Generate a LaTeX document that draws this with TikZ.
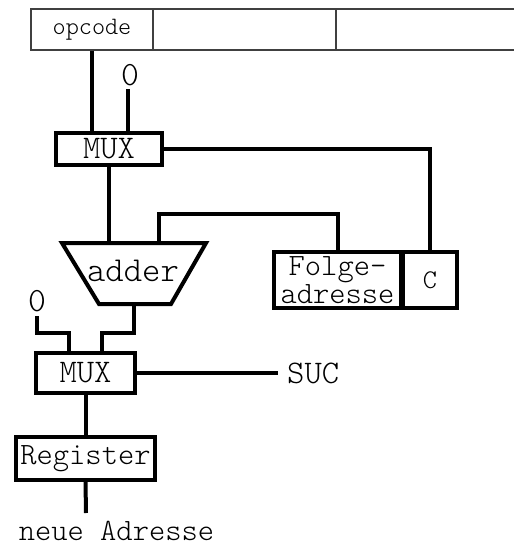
\documentclass[tikz,border=0pt]{standalone}
\usepackage{fontspec}
\newfontfamily\lmlight{lmmonolt10-regular.otf}
\usetikzlibrary{calc}
\newcommand\fsz[1]{\lmlight\fontsize{#1}{#1}\selectfont}
\newcommand\fszl[2]{\lmlight\fontsize{#1}{#2}\selectfont}
\begin{document}
\begin{tikzpicture}[x=1pt,y=-1pt,
  cell/.style={draw=black!75,line width=1.2pt,rectangle,inner sep=0pt,font={\fsz{25}}},
  box/.style={draw,line width=4pt,rectangle,inner sep=0pt,font={\fsz{32}}},
  wire/.style={line width=4pt},
  lbl/.style={inner sep=0pt,font={\fsz{32}}}]
\useasboundingbox (0,0) rectangle (514,547);
% top register
\node[cell,minimum width=122pt,minimum height=41pt] (op) at (92,29.5) {opcode};
\node[cell,minimum width=183pt,minimum height=41pt] (f2) at (244.5,29.5) {};
\node[cell,minimum width=180pt,minimum height=41pt] (f3) at (426,29.5) {};
% MUX 1
\node[box,minimum width=106pt,minimum height=32pt,font={\fsz{33}}] (mux1) at (109,149) {MUX};
\node[lbl,font={\fsz{34}}] (zero1) at (130,75.5) {0};
\coordinate (z1) at (128,89);
% adder
\coordinate (a1) at (62,243);
\coordinate (a2) at (206,243);
\coordinate (a3) at (171,304);
\coordinate (a4) at (99,304);
\draw[wire,line join=miter] (a1) -- (a2) -- (a3) -- (a4) -- cycle;
\node[lbl,font={\fsz{35}}] (adder) at (133,271) {adder};
\coordinate (ain) at (159,243);
\coordinate (aout) at (134,304);
% Folgeadresse and C
\node[box,minimum width=127pt,minimum height=56pt,align=center,font={\fszl{31}{26}}] (folge) at (337.5,280) {Folge-\\adresse};
\node[box,minimum width=54pt,minimum height=56pt,font={\fsz{27}}] (c) at (430,280) {C};
% MUX 2
\node[box,minimum width=99pt,minimum height=40pt,font={\fsz{33}}] (mux2) at (85.5,373) {MUX};
\node[lbl,font={\fsz{34}}] (zero2) at (37,301) {0};
\coordinate (z2) at (37,316);
\node[lbl,anchor=west,inner xsep=9pt,font={\fsz{33}}] (suc) at (278,373) {SUC};
% Register
\node[box,minimum width=139pt,minimum height=43pt,font={\fsz{31}}] (reg) at (85.5,458.5) {Register};
\coordinate (out) at (86,513);
\node[lbl,font={\fsz{31}}] (neu) at (116.5,531) {neue Adresse};
% wires
\draw[wire] (op.south) -- (op.south |- mux1.north);
\draw[wire] (z1) -- (z1 |- mux1.north);
\draw[wire] (mux1.east) -| (c.north);
\draw[wire] (mux1.south) -- (mux1.south |- ain);
\draw[wire] (ain) -- ++(0,-29) -| (folge.north);
\draw[wire] (aout) -- ++(0,29) -| ([xshift=16.5pt]mux2.north);
\draw[wire] (z2) -- ++(0,17) -| ([xshift=-16.5pt]mux2.north);
\draw[wire] (mux2.east) -- (suc.west);
\draw[wire] (mux2.south) -- (reg.north);
\draw[wire] (reg.south) -- (out);
\end{tikzpicture}
\end{document}
